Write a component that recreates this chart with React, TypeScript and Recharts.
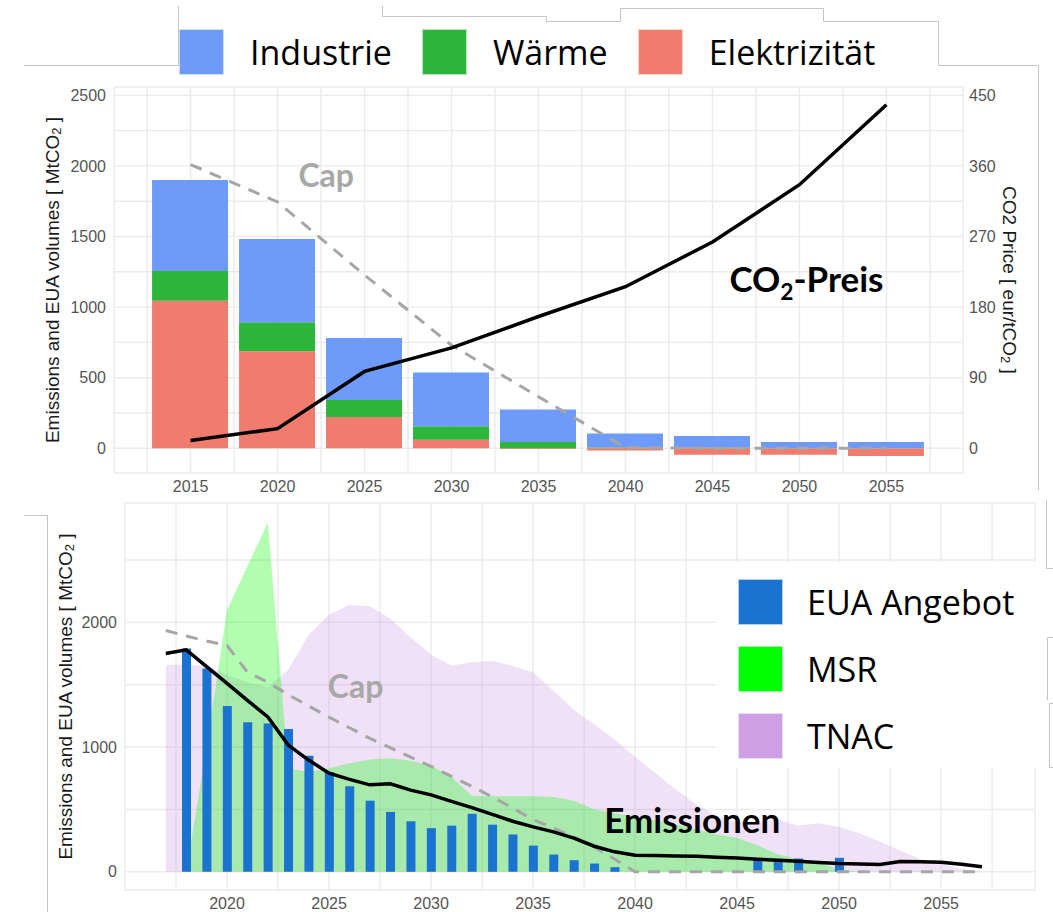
import React from 'react';
import {
  ComposedChart,
  Bar,
  Line,
  Area,
  XAxis,
  YAxis,
  CartesianGrid,
  ReferenceDot,
} from 'recharts';

// ---------- Upper panel: emissions by sector, cap and CO2 price ----------
const sectorYears = [2015, 2020, 2025, 2030, 2035, 2040, 2045, 2050, 2055];
const elektrizitaet = [1045, 687, 222, 61, -5, -15, -45, -45, -55];
const waerme = [210, 205, 120, 95, 45, 5, 3, 0, 0];
const industrie = [645, 590, 440, 380, 230, 100, 84, 45, 45];
const capUpper = [2010, 1745, 1227, 730, 365, 5, 0, 0, 0];
const co2Preis = [10, 25, 98, 128, 168, 206, 263, 336, 438];

const upperGridYears = [
  2012.5, 2015, 2017.5, 2020, 2022.5, 2025, 2027.5, 2030, 2032.5, 2035,
  2037.5, 2040, 2042.5, 2045, 2047.5, 2050, 2052.5, 2055, 2057.5,
];
const upperVolumeTicks = [0, 250, 500, 750, 1000, 1250, 1500, 1750, 2000, 2250, 2500];
const priceTicks = [0, 90, 180, 270, 360, 450];

// ---------- Lower panel: EUA supply, MSR, TNAC, cap and emissions ----------
const years = [
  2017, 2018, 2019, 2020, 2021, 2022, 2023, 2024, 2025, 2026, 2027, 2028, 2029, 2030,
  2031, 2032, 2033, 2034, 2035, 2036, 2037, 2038, 2039, 2040, 2041, 2042, 2043, 2044,
  2045, 2046, 2047, 2048, 2049, 2050, 2051, 2052, 2053, 2054, 2055, 2056, 2057,
];
const euaAngebot = [
  null, 1790, 1630, 1330, 1200, 1190, 1145, 930, 800, 685, 570, 480, 405, 350,
  370, 465, 378, 300, 210, 138, 93, 66, 37, null, null, null, null, null,
  null, 98, 104, 106, null, 112, null, null, null, null, null, null, null,
];
const msr = [
  0, 0, 1000, 2100, 2450, 2800, 830, 800, 830, 870, 900, 910, 890, 850,
  760, 610, 605, 605, 605, 600, 570, 500, 470, 440, 410, 380, 340, 300,
  270, 210, 140, 100, 70, 20, 0, 0, 0, 0, 0, 0, 0,
];
const tnac = [
  1660, 1660, 1650, 1580, 1520, 1480, 1620, 1900, 2060, 2140, 2130, 2030, 1880, 1740,
  1655, 1680, 1690, 1650, 1600, 1450, 1300, 1180, 1060, 920, 790, 660, 540, 450,
  400, 395, 420, 370, 390, 360, 310, 240, 170, 100, 65, 25, 0,
];
const capLower = [
  1935, 1890, 1850, 1815, 1600, 1520, 1420, 1330, 1240, 1155, 1070, 995, 920, 845,
  765, 685, 600, 510, 420, 350, 280, 200, 100, 0, 0, 0, 0, 0,
  0, 0, 0, 0, 0, 0, 0, 0, 0, 0, 0, 0, 0,
];
const emissionen = [
  1750, 1780, 1645, 1510, 1375, 1242, 1016, 896, 790, 741, 697, 705, 655, 617,
  565, 515, 460, 405, 360, 320, 270, 205, 160, 133, 130, 127, 125, 117,
  110, 100, 93, 85, 75, 66, 62, 58, 82, 80, 77, 60, 40,
];

const lowerGridYears = [
  2015, 2017.5, 2020, 2022.5, 2025, 2027.5, 2030, 2032.5, 2035, 2037.5, 2040,
  2042.5, 2045, 2047.5, 2050, 2052.5, 2055, 2057.5,
];
const lowerTickYears = [2020, 2025, 2030, 2035, 2040, 2045, 2050, 2055];
const lowerVolumeTicks = [0, 500, 1000, 1500, 2000, 2500];

// ---------- Legends ----------
const sectorLegend = [
  { name: 'Industrie', color: '#6E9BFA' },
  { name: 'Wärme', color: '#2EB53B' },
  { name: 'Elektrizität', color: '#F07C6E' },
];
const supplyLegend = [
  { name: 'EUA Angebot', color: '#1A73D1' },
  { name: 'MSR', color: '#00FF00' },
  { name: 'TNAC', color: '#CF9FE4' },
];

const upperRows = sectorYears.map((year, i) => ({
  year,
  Elektrizität: elektrizitaet[i],
  Wärme: waerme[i],
  Industrie: industrie[i],
  Cap: capUpper[i],
  Preis: co2Preis[i],
}));

const lowerRows = years.map((year, i) => ({
  year,
  EUA: euaAngebot[i],
  MSR: msr[i],
  TNAC: tnac[i],
  Cap: capLower[i],
  Emissionen: emissionen[i],
}));

const GRID = '#EBEBEB';
const TICK_STYLE = { fill: '#555555', fontSize: 16, fontFamily: '"Liberation Sans", Arial, sans-serif' };
const TITLE_FONT = '"Liberation Sans", Arial, sans-serif';

const everyFiveHundred = (v: number) => (v % 500 === 0 ? String(v) : '');
const everyThousand = (v: number) => (v % 1000 === 0 ? String(v) : '');

type TitlePart = { text: string; sub?: boolean };

// Rotated axis title placed inside the axis box
function axisTitle(parts: TitlePart[], side: 'left' | 'right', inset: number) {
  return (props: any) => {
    const vb = props.viewBox || props;
    const cx = side === 'left' ? vb.x + inset : vb.x + vb.width - inset;
    const cy = vb.y + vb.height / 2;
    const angle = side === 'left' ? -90 : 90;
    return (
      <text
        x={cx}
        y={cy}
        transform={`rotate(${angle} ${cx} ${cy})`}
        textAnchor="middle"
        dominantBaseline="central"
        fill="#1a1a1a"
        fontSize={19}
        fontFamily={TITLE_FONT}
      >
        {parts.map((p, i) =>
          p.sub ? (
            <tspan key={i} dy={4} fontSize={13}>
              {p.text}
            </tspan>
          ) : (
            <tspan key={i} dy={i > 0 && parts[i - 1].sub ? -4 : 0}>
              {p.text}
            </tspan>
          )
        )}
      </text>
    );
  };
}

// Bold in-chart annotation anchored at a data point (baseline at the point)
function annotation(parts: TitlePart[], color: string, size: number) {
  return (props: any) => {
    const vb = props.viewBox;
    const cx = vb.x + (vb.width || 0) / 2;
    const cy = vb.y + (vb.height || 0) / 2;
    return (
      <text
        x={cx}
        y={cy}
        textAnchor="middle"
        fill={color}
        fontSize={size}
        fontWeight={700}
        fontFamily="Lato, 'Open Sans', sans-serif"
      >
        {parts.map((p, i) =>
          p.sub ? (
            <tspan key={i} dy={8} fontSize={size * 0.65}>
              {p.text}
            </tspan>
          ) : (
            <tspan key={i} dy={i > 0 && parts[i - 1].sub ? -8 : 0}>
              {p.text}
            </tspan>
          )
        )}
      </text>
    );
  };
}

function LegendSquare({ color }: { color: string }) {
  return (
    <span
      style={{
        display: 'inline-block',
        width: 43,
        height: 44,
        background: color,
        boxShadow: `0 0 0 1px ${color}55`,
        flex: 'none',
      }}
    />
  );
}

export default function App() {
  return (
    <div
      style={{
        position: 'absolute',
        left: 0,
        top: 0,
        width: 1053,
        height: 912,
        background: '#ffffff',
        overflow: 'hidden',
      }}
    >
      {/* Upper panel */}
      <div style={{ position: 'absolute', left: 0, top: 0 }}>
        <ComposedChart
          width={1053}
          height={500}
          data={upperRows}
          stackOffset="sign"
          margin={{ top: 87, right: 30, bottom: 0, left: 14 }}
        >
          <CartesianGrid xAxisId="grid" yAxisId="left" stroke={GRID} strokeWidth={1.4} />
          <XAxis
            xAxisId="main"
            type="number"
            dataKey="year"
            domain={[2010.6, 2059.4]}
            ticks={sectorYears}
            allowDataOverflow
            height={27}
            tickLine={false}
            axisLine={false}
            tickSize={0}
            tickMargin={8}
            tick={TICK_STYLE}
          />
          <XAxis
            xAxisId="grid"
            type="number"
            dataKey="year"
            domain={[2010.6, 2059.4]}
            ticks={upperGridYears}
            allowDataOverflow
            height={0}
            hide
          />
          <YAxis
            yAxisId="left"
            type="number"
            domain={[-175, 2559]}
            ticks={upperVolumeTicks}
            allowDataOverflow
            width={100}
            tickLine={false}
            axisLine={false}
            tickSize={0}
            tickMargin={8}
            tick={TICK_STYLE}
            tickFormatter={everyFiveHundred}
            label={axisTitle(
              [{ text: 'Emissions and EUA volumes [ MtCO' }, { text: '2', sub: true }, { text: ' ]' }],
              'left',
              38
            )}
          />
          <YAxis
            yAxisId="price"
            orientation="right"
            type="number"
            domain={[-31.5, 460.6]}
            ticks={priceTicks}
            allowDataOverflow
            width={60}
            tickLine={false}
            axisLine={false}
            tickSize={0}
            tickMargin={6}
            tick={{ ...TICK_STYLE, textAnchor: 'start' }}
            label={axisTitle(
              [{ text: 'CO2 Price [ eur/tCO' }, { text: '2', sub: true }, { text: ' ]' }],
              'right',
              13
            )}
          />
          <Bar xAxisId="main" yAxisId="left" dataKey="Elektrizität" stackId="sector" fill="#F07C6E" barSize={76} isAnimationActive={false} />
          <Bar xAxisId="main" yAxisId="left" dataKey="Wärme" stackId="sector" fill="#2EB53B" barSize={76} isAnimationActive={false} />
          <Bar xAxisId="main" yAxisId="left" dataKey="Industrie" stackId="sector" fill="#6E9BFA" barSize={76} isAnimationActive={false} />
          <Line
            xAxisId="main"
            yAxisId="left"
            dataKey="Cap"
            type="linear"
            stroke="#A6A6A6"
            strokeWidth={3}
            strokeDasharray="12 9"
            dot={false}
            isAnimationActive={false}
          />
          <Line
            xAxisId="main"
            yAxisId="price"
            dataKey="Preis"
            type="linear"
            stroke="#000000"
            strokeWidth={3.5}
            dot={false}
            isAnimationActive={false}
          />
          <ReferenceDot
            xAxisId="main"
            yAxisId="left"
            x={2022.8}
            y={1851}
            r={1}
            fill="none"
            stroke="none"
            label={annotation([{ text: 'Cap' }], '#A8A8A8', 32)}
          />
          <ReferenceDot
            xAxisId="main"
            yAxisId="left"
            x={2050.4}
            y={1107}
            r={1}
            fill="none"
            stroke="none"
            label={annotation([{ text: 'CO' }, { text: '2', sub: true }, { text: '-Preis' }], '#000000', 35)}
          />
        </ComposedChart>
      </div>

      {/* Lower panel */}
      <div style={{ position: 'absolute', left: 0, top: 500 }}>
        <ComposedChart
          width={1053}
          height={412}
          data={lowerRows}
          margin={{ top: 3, right: 18, bottom: 0, left: 25 }}
        >
          <CartesianGrid xAxisId="grid" stroke={GRID} strokeWidth={1.4} />
          <XAxis
            xAxisId="main"
            type="number"
            dataKey="year"
            domain={[2015, 2059.6]}
            ticks={lowerTickYears}
            allowDataOverflow
            height={22}
            tickLine={false}
            axisLine={false}
            tickSize={0}
            tickMargin={8}
            tick={TICK_STYLE}
          />
          <XAxis
            xAxisId="grid"
            type="number"
            dataKey="year"
            domain={[2015, 2059.6]}
            ticks={lowerGridYears}
            allowDataOverflow
            height={0}
            hide
          />
          <YAxis
            type="number"
            domain={[-146, 2957]}
            ticks={lowerVolumeTicks}
            allowDataOverflow
            width={100}
            tickLine={false}
            axisLine={false}
            tickSize={0}
            tickMargin={8}
            tick={TICK_STYLE}
            tickFormatter={everyThousand}
            label={axisTitle(
              [{ text: 'Emissions and EUA volumes [ MtCO' }, { text: '2', sub: true }, { text: ' ]' }],
              'left',
              40
            )}
          />
          <Area
            xAxisId="main"
            dataKey="TNAC"
            type="linear"
            fill="#CE9DE3"
            fillOpacity={0.3}
            stroke="none"
            isAnimationActive={false}
          />
          <Area
            xAxisId="main"
            dataKey="MSR"
            type="linear"
            fill="#00FF00"
            fillOpacity={0.3}
            stroke="none"
            isAnimationActive={false}
          />
          <Bar xAxisId="main" dataKey="EUA" fill="#1A73D1" barSize={9} isAnimationActive={false} />
          <Line
            xAxisId="main"
            dataKey="Cap"
            type="linear"
            stroke="#A6A6A6"
            strokeWidth={3}
            strokeDasharray="12 9"
            dot={false}
            isAnimationActive={false}
          />
          <Line
            xAxisId="main"
            dataKey="Emissionen"
            type="linear"
            stroke="#000000"
            strokeWidth={3.5}
            dot={false}
            isAnimationActive={false}
          />
          <ReferenceDot
            xAxisId="main"
            x={2026.3}
            y={1390}
            r={1}
            fill="none"
            stroke="none"
            label={annotation([{ text: 'Cap' }], '#A8A8A8', 32)}
          />
          <ReferenceDot
            xAxisId="main"
            x={2042.8}
            y={308}
            r={1}
            fill="none"
            stroke="none"
            label={annotation([{ text: 'Emissionen' }], '#000000', 35)}
          />
        </ComposedChart>
      </div>

      {/* Sector legend */}
      <div
        style={{
          position: 'absolute',
          left: 180,
          top: 29,
          height: 45,
          display: 'flex',
          alignItems: 'center',
          fontFamily: '"Open Sans", sans-serif',
          fontSize: 34,
          lineHeight: 1,
          color: '#000',
        }}
      >
        {sectorLegend.map((item) => (
          <div key={item.name} style={{ display: 'flex', alignItems: 'center', marginRight: 31 }}>
            <LegendSquare color={item.color} />
            <span style={{ marginLeft: 27 }}>{item.name}</span>
          </div>
        ))}
      </div>

      {/* Supply legend on a white card */}
      <div
        style={{
          position: 'absolute',
          left: 716,
          top: 562,
          width: 337,
          height: 206,
          background: '#ffffff',
        }}
      >
        {supplyLegend.map((item, i) => (
          <div
            key={item.name}
            style={{
              position: 'absolute',
              left: 23,
              top: 18 + i * 67,
              display: 'flex',
              alignItems: 'center',
              fontFamily: '"Open Sans", sans-serif',
              fontSize: 34,
              lineHeight: 1,
              color: '#000',
            }}
          >
            <LegendSquare color={item.color} />
            <span style={{ marginLeft: 25 }}>{item.name}</span>
          </div>
        ))}
      </div>

      {/* Frame lines of the composite */}
      <svg
        width={1053}
        height={912}
        style={{ position: 'absolute', left: 0, top: 0, pointerEvents: 'none' }}
      >
        <g fill="none" stroke="#C4C4C4" strokeWidth={1}>
          <polyline points="24,65.5 178.5,65.5 178.5,6" />
          <polyline points="382.5,6 382.5,16.5 546.5,16.5 546.5,21.5 620.5,21.5 620.5,8.5 823.5,8.5 823.5,21.5 938.5,21.5 938.5,65.5 1038.5,65.5 1038.5,490" />
          <polyline points="24,515.5 47.5,515.5 47.5,912" />
          <polyline points="1046.5,500 1046.5,568.5 1053,568.5" />
          <polyline points="1053,637.5 1047.5,637.5 1047.5,700" />
          <polyline points="1053,703.5 1049.5,703.5 1049.5,767.5 1053,767.5" />
        </g>
      </svg>
    </div>
  );
}
